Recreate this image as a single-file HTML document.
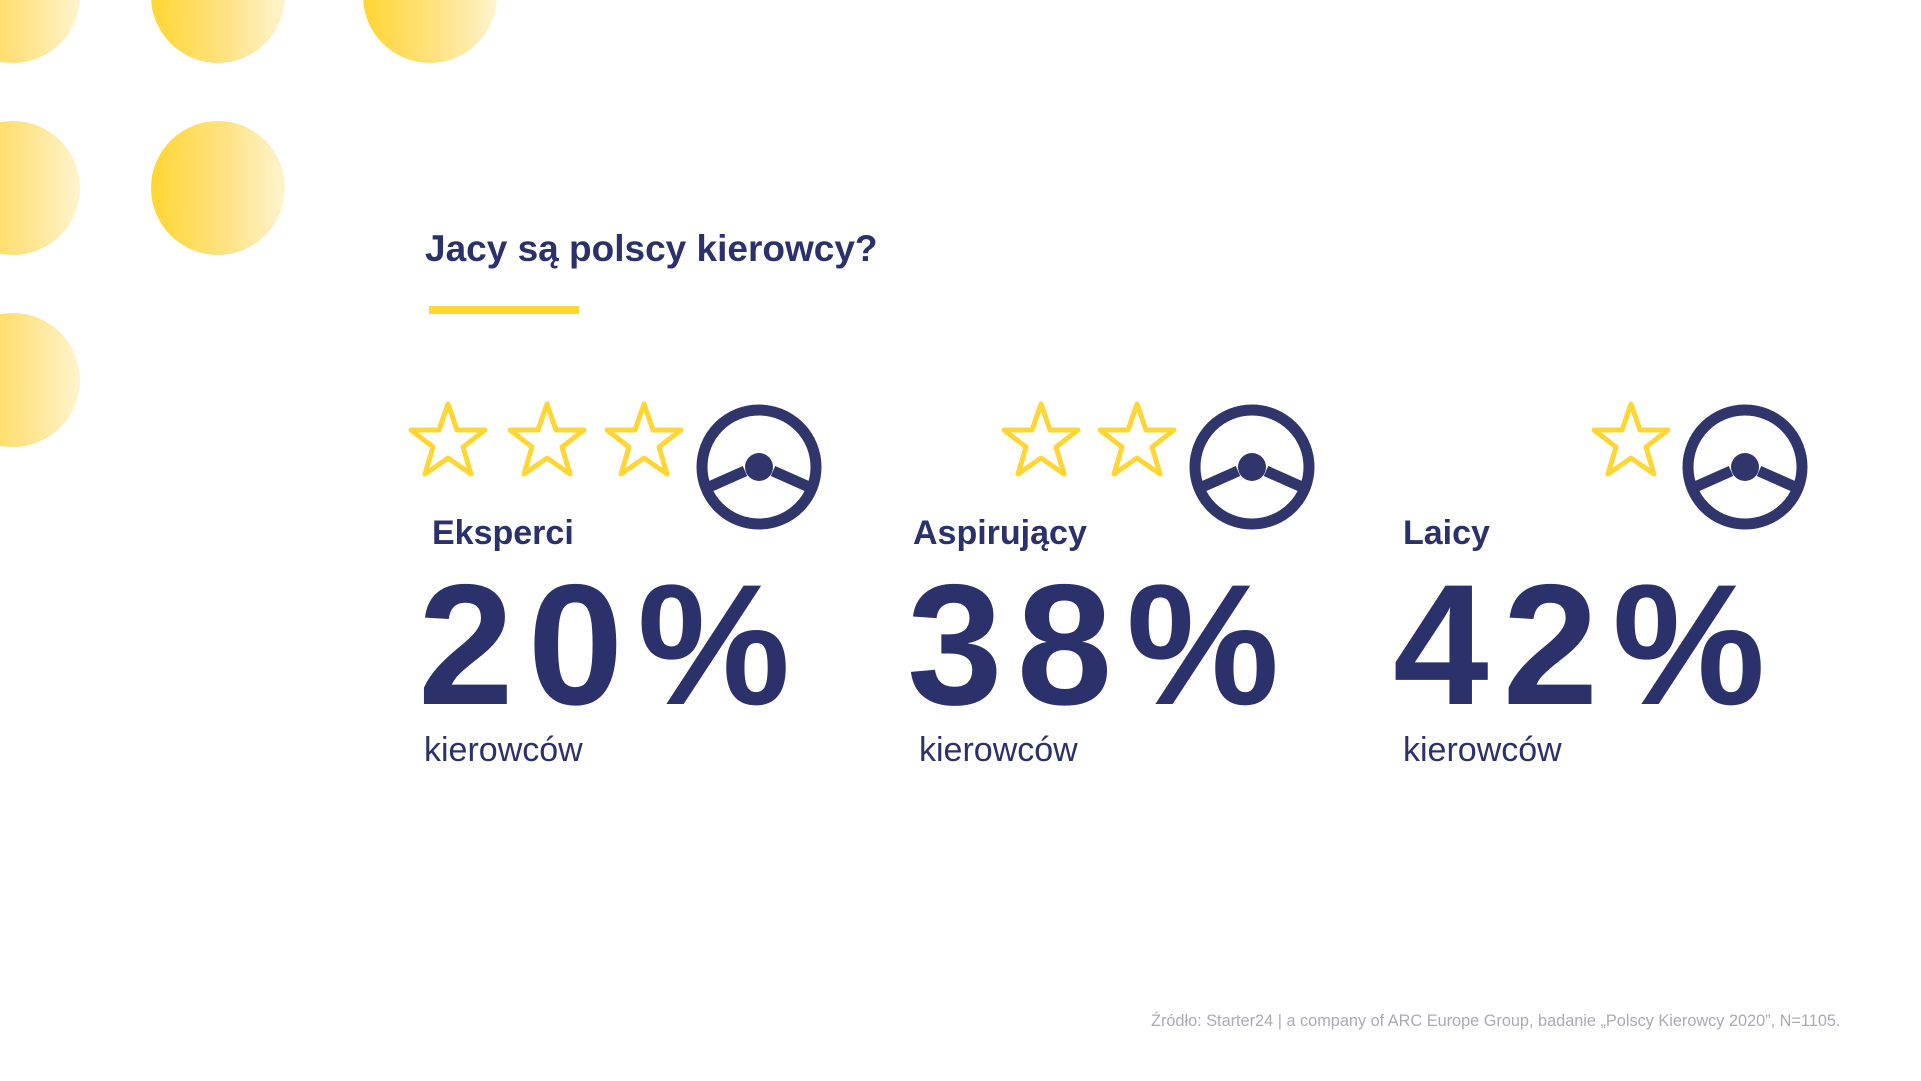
<!DOCTYPE html>
<html><head><meta charset="utf-8"><style>
html,body{margin:0;padding:0;background:#fff;}
body{width:1921px;height:1081px;position:relative;overflow:hidden;font-family:"Liberation Sans",sans-serif;color:#2a316b;}
.c{position:absolute;width:134px;height:134px;border-radius:50%;background:linear-gradient(90deg,#ffd633 0%,#fee48a 60%,#fff4cf 100%);}
.t{position:absolute;white-space:nowrap;}
.big{font-size:172px;font-weight:bold;letter-spacing:14px;line-height:1;}
.lab{font-size:34px;font-weight:bold;}
.sub{font-size:34px;}
</style></head><body>
<div class="c" style="left:-54px;top:-71px"></div>
<div class="c" style="left:151px;top:-71px"></div>
<div class="c" style="left:363px;top:-71px"></div>
<div class="c" style="left:-54px;top:121px"></div>
<div class="c" style="left:151px;top:121px"></div>
<div class="c" style="left:-54px;top:313px"></div>

<div class="t" style="left:425px;top:228px;font-size:37px;font-weight:bold;">Jacy są polscy kierowcy?</div>
<div style="position:absolute;left:429px;top:306px;width:150px;height:8px;background:#ffd633"></div>

<svg width="1921" height="1081" style="position:absolute;left:0;top:0">
<defs>
<path id="st" d="M0,-38 L9,-12 L37,-12 L15,5 L23,32 L0,16 L-23,32 L-15,5 L-37,-12 L-9,-12 Z" fill="none" stroke="#ffd633" stroke-width="5" stroke-linejoin="round"/>
<g id="wh"><circle r="57" fill="none" stroke="#30356b" stroke-width="11"/><circle cx="0" cy="0" r="14" fill="#30356b"/><path d="M-14,4 L-50,20 M14,4 L50,20" stroke="#30356b" stroke-width="11"/></g>
</defs>
<use href="#st" x="448" y="442"/><use href="#st" x="547" y="442"/><use href="#st" x="644" y="442"/>
<use href="#wh" x="759" y="467"/>
<use href="#st" x="1041" y="442"/><use href="#st" x="1137" y="442"/>
<use href="#wh" x="1252" y="467"/>
<use href="#st" x="1631" y="442"/>
<use href="#wh" x="1745" y="467"/>
</svg>

<div class="t lab" style="left:432px;top:514px">Eksperci</div>
<div class="t lab" style="left:913px;top:514px">Aspirujący</div>
<div class="t lab" style="left:1403px;top:514px">Laicy</div>

<div class="t big" style="left:418px;top:559px">20%</div>
<div class="t big" style="left:907px;top:559px">38%</div>
<div class="t big" style="left:1393px;top:559px">42%</div>

<div class="t sub" style="left:424px;top:731px">kierowców</div>
<div class="t sub" style="left:919px;top:731px">kierowców</div>
<div class="t sub" style="left:1403px;top:731px">kierowców</div>

<div class="t" style="left:1151px;top:1012px;font-size:16.3px;color:#aaaab4;">Źródło: Starter24 | a company of ARC Europe Group, badanie „Polscy Kierowcy 2020”, N=1105.</div>
</body></html>
